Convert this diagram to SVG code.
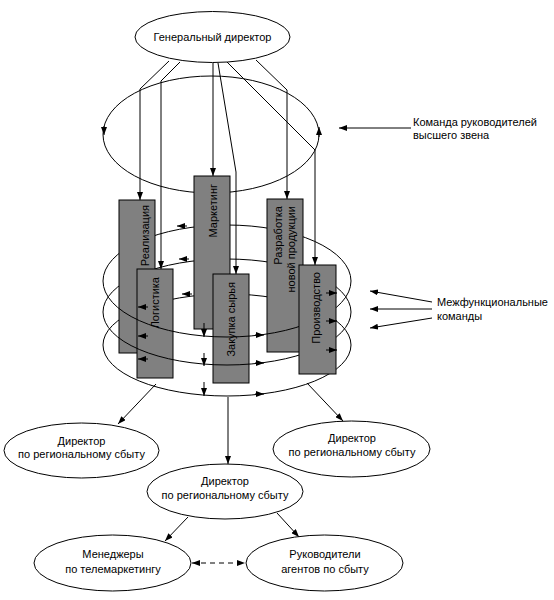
<svg xmlns="http://www.w3.org/2000/svg" width="554" height="600" viewBox="0 0 554 600">
<defs>
<marker id="ah" viewBox="0 0 8 6" refX="8" refY="3" markerWidth="8" markerHeight="6" markerUnits="userSpaceOnUse" orient="auto-start-reverse"><path d="M0,0 L8,3 L0,6 z" fill="#000"/></marker>
<style>
text{font-family:"Liberation Sans",Arial,sans-serif;font-size:11px;fill:#000}
.n{fill:#fff;stroke:#000;stroke-width:1}
.b{fill:#808080;stroke:#000;stroke-width:1}
.l{fill:none;stroke:#000;stroke-width:1}
.a{fill:none;stroke:#000;stroke-width:1;marker-end:url(#ah)}
.c{text-anchor:middle}
.r{text-anchor:end}
</style>
</defs>
<rect width="554" height="600" fill="#fff"/>

<g id="top-team">
<ellipse class="l" cx="211" cy="134.5" rx="108" ry="58.5"/>
</g>

<g id="rings-back">
<path class="l" d="M103,281 A124,56 0 0 1 351,281"/>
<path class="l" d="M103,312 A124,53 0 0 1 351,312"/>
<path class="l" d="M103,345 A124,51 0 0 1 351,345"/>
</g>

<g id="connectors">
<polyline class="a" points="169,61 140,89 140,200"/>
<polyline class="a" points="180,62 161,81 161,269"/>
<polyline class="a" points="213,63 213,176"/>
<polyline class="a" points="218,63 236,172 236,274"/>
<polyline class="a" points="227,62 315,150 315,265"/>
<polyline class="a" points="256,60 287,90 287,199"/>
<path class="a" d="M104,126 L104,135"/>
<path class="a" d="M319,137 L319,127"/>
<path class="a" d="M187,226 L177,226"/>
<path class="a" d="M189,259 L179,259"/>
<path class="a" d="M192,294 L182,294"/>
<path class="a" d="M411,128 L339,128"/>
<path class="a" d="M432,302 L370,291"/>
<path class="a" d="M432,309 L370,309"/>
<path class="a" d="M432,318 L370,328"/>
</g>

<g id="gd">
<ellipse class="n" cx="212.5" cy="37" rx="77.5" ry="25.5"/>
<text class="c" x="212.5" y="41">Генеральный директор</text>
</g>

<g id="realizacia">
<rect class="b" x="119" y="200" width="36" height="153"/>
<text class="r" transform="translate(149,205) rotate(-90)">Реализация</text>
</g>
<g id="marketing">
<rect class="b" x="194" y="176" width="36" height="153"/>
<text class="r" transform="translate(216.5,184) rotate(-90)">Маркетинг</text>
</g>
<g id="razrabotka">
<rect class="b" x="267" y="199" width="36" height="153"/>
<text class="r" transform="translate(282,206) rotate(-90)">Разработка</text>
<text class="r" transform="translate(295,206) rotate(-90)">новой продукции</text>
</g>
<g id="logistika">
<rect class="b" x="137" y="269" width="36" height="109"/>
<text class="r" transform="translate(159,277) rotate(-90)">Логистика</text>
</g>
<g id="zakupka">
<rect class="b" x="213" y="274" width="36" height="109"/>
<text class="r" transform="translate(235,282) rotate(-90)">Закупка сырья</text>
</g>

<g id="rings-front">
<path class="l" d="M351,281 A124,56 0 0 1 103,281"/>
<path class="l" d="M351,312 A124,53 0 0 1 103,312"/>
<path class="l" d="M351,345 A124,51 0 0 1 103,345"/>
</g>

<g id="proizvodstvo">
<rect class="b" x="299" y="265" width="37" height="109"/>
<text class="r" transform="translate(320,272) rotate(-90)">Производство</text>
</g>

<g id="ring-arrows">
<path class="a" d="M255,335 L264,335"/>
<path class="a" d="M255,363 L264,363"/>
<path class="a" d="M255,394 L264,394"/>
<path class="a" d="M204,323 L204,337"/>
<path class="a" d="M204,353 L204,366"/>
<path class="a" d="M204,382 L204,396"/>
<path class="a" d="M148,307 L138,307"/>
<path class="a" d="M148,336 L138,336"/>
<path class="a" d="M148,359 L138,359"/>
<path class="a" d="M326,293 L337,293"/>
<path class="a" d="M326,321 L337,321"/>
<path class="a" d="M326,350 L337,350"/>
</g>

<g id="lower-connectors">
<path class="a" d="M156,384 L118,424"/>
<path class="a" d="M307,383 L343,421"/>
<path class="a" d="M228,397 L228,464"/>
<path class="a" d="M188,517 L165,541"/>
<path class="a" d="M277,513 L299,537"/>
<path class="l" d="M192,563 L245,563" stroke-dasharray="5,4" marker-start="url(#ah)" marker-end="url(#ah)"/>
</g>

<g id="labels">
<text x="413" y="126">Команда руководителей</text>
<text x="413" y="139">высшего звена</text>
<text x="437" y="306">Межфункциональные</text>
<text x="437" y="320">команды</text>
</g>

<g id="dir-left">
<ellipse class="n" cx="81.5" cy="450.5" rx="77.5" ry="27.5"/>
<text class="c" x="81.5" y="445">Директор</text>
<text class="c" x="81.5" y="458">по региональному сбыту</text>
</g>
<g id="dir-right">
<ellipse class="n" cx="351.5" cy="449" rx="78.5" ry="28"/>
<text class="c" x="352" y="442">Директор</text>
<text class="c" x="352" y="456">по региональному сбыту</text>
</g>
<g id="dir-mid">
<ellipse class="n" cx="225" cy="491.5" rx="78" ry="27.5"/>
<text class="c" x="225" y="485">Директор</text>
<text class="c" x="225" y="499">по региональному сбыту</text>
</g>
<g id="managers">
<ellipse class="n" cx="112.5" cy="563" rx="78.5" ry="28"/>
<text class="c" x="113" y="558">Менеджеры</text>
<text class="c" x="113" y="573">по телемаркетингу</text>
</g>
<g id="agents">
<ellipse class="n" cx="324.5" cy="563" rx="78.5" ry="28"/>
<text class="c" x="325" y="558">Руководители</text>
<text class="c" x="325" y="573">агентов по сбыту</text>
</g>
</svg>
